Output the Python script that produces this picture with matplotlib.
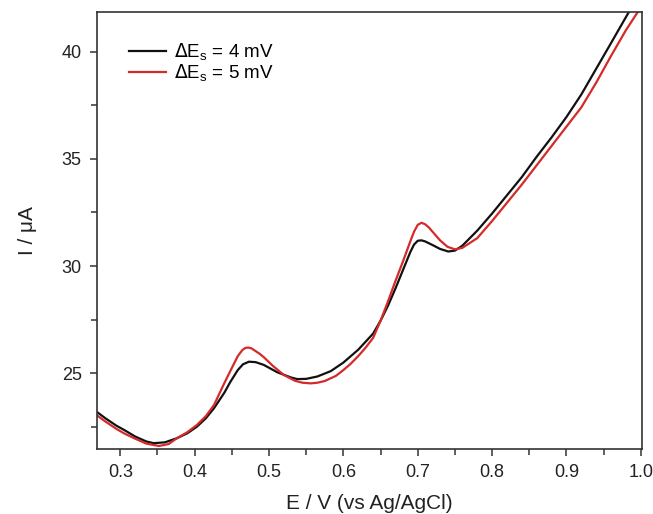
import matplotlib
matplotlib.use('Agg')
import matplotlib.pyplot as plt
from matplotlib.ticker import MultipleLocator

plt.rcParams['font.family'] = ['Liberation Sans', 'DejaVu Sans']

# potential (V vs Ag/AgCl) and current (uA)
E_4mV = [0.268, 0.28, 0.295, 0.305, 0.32, 0.335, 0.345, 0.36, 0.376, 0.39,
         0.403, 0.415, 0.426, 0.44, 0.448, 0.458, 0.465, 0.473, 0.482, 0.493,
         0.502, 0.511, 0.52, 0.53, 0.538, 0.55, 0.565, 0.583, 0.60, 0.62,
         0.64, 0.65, 0.66, 0.67, 0.68, 0.69, 0.695, 0.70, 0.705, 0.71,
         0.72, 0.73, 0.741, 0.75, 0.76, 0.78, 0.80, 0.82, 0.84, 0.86,
         0.88, 0.90, 0.92, 0.94, 0.96, 0.984]
I_4mV = [23.21, 22.9, 22.55, 22.36, 22.05, 21.82, 21.74, 21.78, 21.97, 22.2,
         22.51, 22.9, 23.37, 24.1, 24.6, 25.15, 25.42, 25.54, 25.52, 25.39,
         25.22, 25.05, 24.93, 24.8, 24.73, 24.74, 24.85, 25.1, 25.5, 26.1,
         26.85, 27.45, 28.15, 28.95, 29.8, 30.65, 31.0, 31.18, 31.2, 31.15,
         30.98, 30.8, 30.68, 30.72, 30.95, 31.65, 32.45, 33.3, 34.15, 35.1,
         36.0, 36.95, 38.0, 39.2, 40.4, 41.85]

E_5mV = [0.268, 0.28, 0.295, 0.305, 0.32, 0.335, 0.352, 0.365, 0.376, 0.39,
         0.403, 0.415, 0.426, 0.44, 0.45, 0.458, 0.464, 0.468, 0.472, 0.476,
         0.48, 0.487, 0.493, 0.505, 0.52, 0.535, 0.545, 0.556, 0.565, 0.575,
         0.59, 0.60, 0.61, 0.62, 0.63, 0.64, 0.65, 0.66, 0.67, 0.68,
         0.69, 0.695, 0.70, 0.705, 0.71, 0.715, 0.72, 0.73, 0.74, 0.75,
         0.76, 0.78, 0.80, 0.82, 0.84, 0.86, 0.88, 0.90, 0.92, 0.94,
         0.96, 0.98, 0.996]
I_5mV = [23.05, 22.75, 22.4, 22.2, 21.95, 21.72, 21.61, 21.7, 21.97, 22.25,
         22.59, 23.0, 23.52, 24.55, 25.25, 25.8, 26.08, 26.18, 26.2, 26.17,
         26.08, 25.92, 25.75, 25.35, 24.92, 24.65, 24.56, 24.53, 24.56, 24.64,
         24.88, 25.15, 25.45, 25.8, 26.2, 26.65, 27.45, 28.35, 29.3, 30.2,
         31.15, 31.6, 31.92, 32.02, 31.95, 31.8, 31.6, 31.2, 30.9, 30.78,
         30.85, 31.3, 32.1, 32.95, 33.8, 34.7, 35.6, 36.5, 37.4, 38.55,
         39.8, 41.0, 41.85]

labels = [r'$\Delta$E$_\mathregular{s}$ = 4 mV', r'$\Delta$E$_\mathregular{s}$ = 5 mV']

fig = plt.figure(figsize=(6.53, 5.14), dpi=100)
ax = fig.add_axes([0.1485, 0.1265, 0.8347, 0.8502])

ax.plot(E_4mV, I_4mV, color='#111111', lw=1.6, label=labels[0])
ax.plot(E_5mV, I_5mV, color='#d42a2a', lw=1.6, label=labels[1])

ax.set_xlim(0.2686, 1.0017)
ax.set_ylim(21.47, 41.85)
ax.xaxis.set_major_locator(MultipleLocator(0.1))
ax.xaxis.set_minor_locator(MultipleLocator(0.05))
ax.yaxis.set_major_locator(MultipleLocator(5))
ax.yaxis.set_minor_locator(MultipleLocator(2.5))
ax.tick_params(which='both', direction='out', top=False, right=False,
               width=1.1, colors='#333333', labelsize=13, labelcolor='#222222', pad=6)
ax.tick_params(which='major', length=5)
ax.tick_params(which='minor', length=4)
for s in ax.spines.values():
    s.set_linewidth(1.2)
    s.set_color('#333333')

ax.set_xlabel('E / V (vs Ag/AgCl)', fontsize=15, color='#222222', labelpad=9)
ax.set_ylabel('I / \u03bcA', fontsize=15, color='#222222', labelpad=18)

ax.legend(loc='upper left', bbox_to_anchor=(0.045, 0.95), frameon=False,
          fontsize=13.5, handlelength=2.0, handletextpad=0.4, labelspacing=0.0,
          borderaxespad=0)

fig.savefig('out.png', dpi=100)
